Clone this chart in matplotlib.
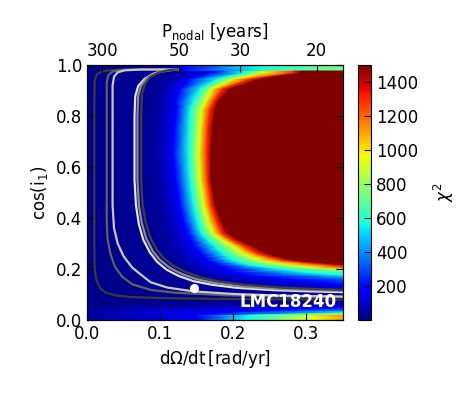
import numpy as np
import matplotlib
matplotlib.use('Agg')
import matplotlib.pyplot as plt

plt.rcParams.update({
    'font.size': 12,
    'xtick.direction': 'in',
    'ytick.direction': 'in',
    'xtick.major.size': 5,
    'ytick.major.size': 5,
    'ytick.right': True,
})

# chi^2 map, read row by row: x position where chi^2 reaches each level
chi_levels = [15, 40, 100, 190, 560, 940, 1300, 1500, 1500]
row_y = [0.0, 0.018, 0.032, 0.048, 0.065, 0.085, 0.1, 0.118, 0.145, 0.164,
         0.176, 0.19, 0.204, 0.216, 0.226, 0.235, 0.25, 0.263, 0.29, 0.315,
         0.34, 0.39, 0.45, 0.55, 0.65, 0.75, 0.824, 0.855, 0.906, 0.945,
         0.97, 0.979, 0.981, 1.0]
# crossings of levels 40, 100, 190, 560, 940, 1300, 1500
row_x = [
    [0.0, 0.08, 0.15, 0.22, 0.31, 0.40, 0.45],
    [0.0, 0.08, 0.15, 0.22, 0.31, 0.40, 0.45],
    [0.0, 0.08, 0.20, 0.39, 0.50, 0.60, 0.70],
    [0.0, 0.15, 0.34, 0.60, 0.80, 0.90, 1.00],
    [0.30, 0.50, 0.70, 0.90, 1.10, 1.20, 1.30],
    [0.35, 0.55, 0.75, 1.00, 1.20, 1.30, 1.40],
    [0.30, 0.50, 0.70, 0.90, 1.10, 1.20, 1.30],
    [0.20, 0.33, 0.45, 0.70, 0.90, 1.00, 1.10],
    [0.17, 0.26, 0.33, 0.55, 0.70, 0.80, 0.90],
    [0.16, 0.22, 0.26, 0.45, 0.60, 0.70, 0.80],
    [0.15, 0.19, 0.22, 0.35, 0.50, 0.60, 0.70],
    [0.14, 0.17, 0.20, 0.292, 0.45, 0.55, 0.60],
    [0.13, 0.16, 0.19, 0.255, 0.315, 0.37, 0.40],
    [0.125, 0.155, 0.18, 0.223, 0.278, 0.333, 0.36],
    [0.122, 0.15, 0.172, 0.21, 0.255, 0.295, 0.315],
    [0.12, 0.145, 0.165, 0.20, 0.237, 0.268, 0.282],
    [0.118, 0.141, 0.16, 0.192, 0.224, 0.247, 0.26],
    [0.115, 0.138, 0.155, 0.185, 0.213, 0.232, 0.246],
    [0.11, 0.13, 0.147, 0.175, 0.20, 0.215, 0.228],
    [0.108, 0.128, 0.142, 0.165, 0.185, 0.198, 0.208],
    [0.105, 0.125, 0.138, 0.157, 0.173, 0.185, 0.193],
    [0.102, 0.12, 0.132, 0.151, 0.166, 0.177, 0.184],
    [0.10, 0.115, 0.127, 0.146, 0.16, 0.17, 0.176],
    [0.095, 0.11, 0.122, 0.141, 0.155, 0.165, 0.17],
    [0.092, 0.107, 0.118, 0.139, 0.153, 0.164, 0.17],
    [0.094, 0.108, 0.12, 0.14, 0.155, 0.165, 0.172],
    [0.097, 0.11, 0.123, 0.141, 0.157, 0.168, 0.176],
    [0.098, 0.11, 0.122, 0.145, 0.162, 0.173, 0.18],
    [0.10, 0.115, 0.127, 0.155, 0.171, 0.185, 0.196],
    [0.11, 0.125, 0.14, 0.178, 0.20, 0.223, 0.237],
    [0.125, 0.145, 0.168, 0.214, 0.241, 0.282, 0.292],
    [0.125, 0.145, 0.168, 0.214, 0.241, 0.282, 0.292],
    [0.10, 0.115, 0.131, 0.237, 0.46, 0.60, 0.70],
    [0.10, 0.115, 0.131, 0.237, 0.46, 0.60, 0.70],
]

# contour lines (x = dOmega/dt, y = cos i1)
line_a_x = [0.125, 0.06, 0.03, 0.02, 0.013, 0.0105, 0.010, 0.010, 0.0105, 0.013, 0.018, 0.026, 0.04, 0.06, 0.10, 0.17, 0.25, 0.35]
line_a_y = [0.983, 0.983, 0.980, 0.975, 0.962, 0.94, 0.85, 0.30, 0.20, 0.155, 0.125, 0.107, 0.096, 0.09, 0.086, 0.083, 0.081, 0.08]
line_b_x = [0.125, 0.07, 0.045, 0.035, 0.029, 0.027, 0.027, 0.028, 0.032, 0.038, 0.048, 0.062, 0.087, 0.12, 0.19, 0.27, 0.35]
line_b_y = [0.983, 0.983, 0.981, 0.975, 0.96, 0.93, 0.40, 0.32, 0.26, 0.21, 0.17, 0.14, 0.118, 0.107, 0.097, 0.092, 0.09]
line_c_x = [0.125, 0.075, 0.052, 0.042, 0.037, 0.035, 0.035, 0.037, 0.042, 0.05, 0.062, 0.075, 0.087, 0.11, 0.146, 0.2, 0.27, 0.35]
line_c_y = [0.983, 0.983, 0.980, 0.972, 0.955, 0.92, 0.45, 0.36, 0.30, 0.25, 0.205, 0.175, 0.148, 0.127, 0.112, 0.102, 0.095, 0.092]
line_d_x = [0.125, 0.108, 0.092, 0.079, 0.07, 0.066, 0.065, 0.065, 0.067, 0.071, 0.077, 0.086, 0.096, 0.109, 0.126, 0.146, 0.171, 0.205, 0.255, 0.305, 0.35]
line_d_y = [0.983, 0.979, 0.968, 0.947, 0.918, 0.878, 0.8, 0.55, 0.45, 0.375, 0.315, 0.265, 0.228, 0.197, 0.172, 0.152, 0.138, 0.126, 0.117, 0.112, 0.109]
line_e_x = [0.125, 0.11, 0.095, 0.082, 0.074, 0.070, 0.069, 0.069, 0.071, 0.075, 0.081, 0.09, 0.10, 0.113, 0.13, 0.15, 0.175, 0.21, 0.26, 0.31, 0.35]
line_e_y = [0.983, 0.98, 0.97, 0.95, 0.92, 0.88, 0.8, 0.55, 0.45, 0.38, 0.32, 0.27, 0.235, 0.205, 0.18, 0.16, 0.145, 0.132, 0.122, 0.117, 0.114]
line_f_x = [0.125, 0.113, 0.099, 0.086, 0.079, 0.075, 0.074, 0.074, 0.076, 0.080, 0.086, 0.095, 0.105, 0.118, 0.135, 0.155, 0.18, 0.215, 0.265, 0.315, 0.35]
line_f_y = [0.984, 0.981, 0.972, 0.953, 0.925, 0.885, 0.8, 0.55, 0.455, 0.385, 0.327, 0.277, 0.242, 0.213, 0.188, 0.167, 0.151, 0.138, 0.127, 0.121, 0.118]

best_x, best_y = 0.1457, 0.124
period_ticks = [300, 50, 30, 20]
cbar_ticks = [200, 400, 600, 800, 1000, 1200, 1400]

fig = plt.figure(figsize=(4.74, 3.95), dpi=100)
ax = fig.add_axes([0.1835, 0.19, 0.54, 0.645])
cax = fig.add_axes([0.7547, 0.19, 0.028, 0.645])

# build the curvilinear mesh from the row crossings
X = np.array([[0.0] + r + [2.0] for r in row_x])
Y = np.repeat(np.array(row_y)[:, None], X.shape[1], axis=1)
C = np.tile(np.array(chi_levels, dtype=float), (len(row_y), 1))
mesh = ax.pcolormesh(X, Y, C, shading='gouraud', cmap='jet', vmin=0, vmax=1500)

lines = [
    (line_a_x, line_a_y, '#3a3a3a'),
    (line_b_x, line_b_y, '#606060'),
    (line_c_x, line_c_y, '#c8c8c8'),
    (line_d_x, line_d_y, '#e0e0e0'),
    (line_e_x, line_e_y, '#8c8c8c'),
    (line_f_x, line_f_y, '#404040'),
]
for lx, ly, col in lines:
    ax.plot(lx, ly, color=col, lw=1.6, solid_capstyle='butt')

ax.plot(best_x, best_y, 'o', color='white', mec='white', ms=5.5)
ax.text(0.975, 0.072, 'LMC18240', transform=ax.transAxes, color='white',
        fontweight='bold', fontsize=12, ha='right', va='center')

ax.set_xlim(0, 0.35)
ax.set_ylim(0, 1)
ax.set_xticks([0.0, 0.1, 0.2, 0.3])
ax.set_yticks([0.0, 0.2, 0.4, 0.6, 0.8, 1.0])
ax.tick_params(top=False)
ax.set_xlabel(r'$\mathrm{d}\Omega/\mathrm{dt}\,[\mathrm{rad/yr}]$')
ax.set_ylabel(r'$\mathrm{cos(i_1)}$')

ax2 = ax.twiny()
ax2.set_xlim(0, 0.35)
ax2.set_xticks([2 * np.pi / p for p in period_ticks])
ax2.set_xticklabels([str(p) for p in period_ticks])
ax2.set_xlabel(r'$\mathrm{P_{nodal}}\ [\mathrm{years}]$')

cb = fig.colorbar(mesh, cax=cax, ticks=cbar_ticks)
cb.ax.tick_params(direction='in', length=5)
cb.set_label(r'$\chi^2$', labelpad=10)

fig.savefig('out.png', dpi=100)
